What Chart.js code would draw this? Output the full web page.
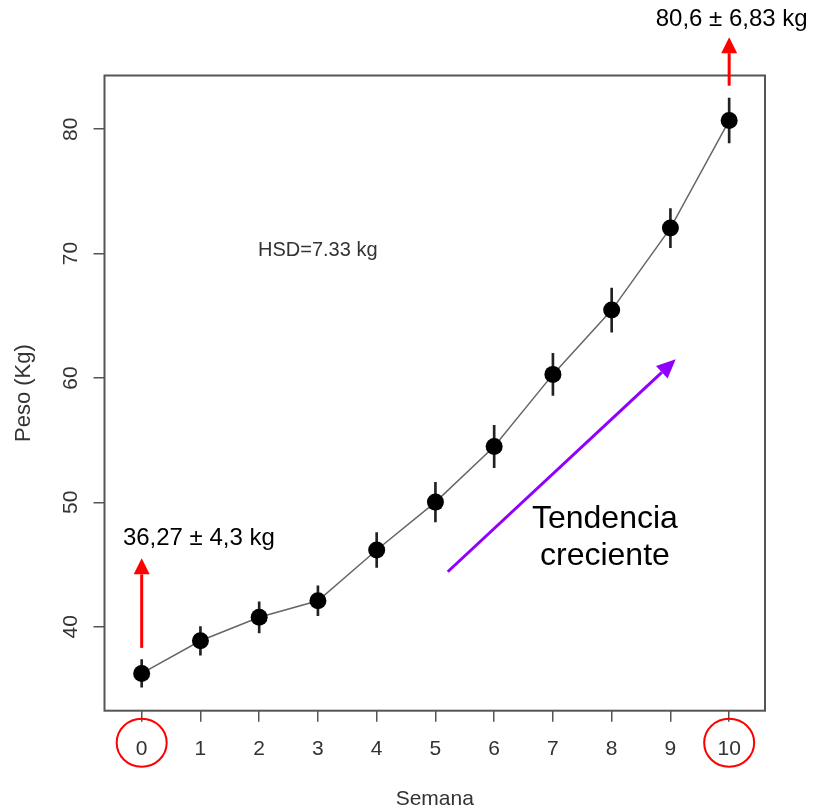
<!DOCTYPE html>
<html>
<head>
<meta charset="utf-8">
<script src="https://cdn.jsdelivr.net/npm/chart.js@4"></script>
<style>
  body { margin: 0; background: #fff; }
  canvas { display: block; }
</style>
</head>
<body>
<canvas id="pesoChart" width="813" height="812"></canvas>
<script>
// Peso medio por semana (kg) y semiamplitud de la barra de error
const semanas = [0, 1, 2, 3, 4, 5, 6, 7, 8, 9, 10];
const pesoMedio = [36.25, 38.87, 40.76, 42.09, 46.17, 50.02, 54.49, 60.29, 65.46, 72.05, 80.7];
const pesoError = [1.1, 1.15, 1.25, 1.2, 1.4, 1.6, 1.7, 1.7, 1.77, 1.58, 1.8];
const xTicks = [0, 1, 2, 3, 4, 5, 6, 7, 8, 9, 10];
const yTicks = [40, 50, 60, 70, 80];

const rFont = 'Liberation Sans, Arial, sans-serif';
const axisGray = '#555';
const textGray = '#333';

const ctx = document.getElementById('pesoChart').getContext('2d');

// flechas y textos añadidos sobre el gráfico
const annotations = {
  id: 'annotations',
  afterDraw(chart) {
    const { ctx, scales: { x, y } } = chart;
    const px = v => x.getPixelForValue(v);
    const py = v => y.getPixelForValue(v);

    const arrow = (x1, y1, x2, y2, color, lw, headLen, headW) => {
      const ang = Math.atan2(y2 - y1, x2 - x1);
      const bx = x2 - headLen * Math.cos(ang);
      const by = y2 - headLen * Math.sin(ang);
      ctx.save();
      ctx.strokeStyle = color;
      ctx.fillStyle = color;
      ctx.lineWidth = lw;
      ctx.beginPath();
      ctx.moveTo(x1, y1);
      ctx.lineTo(bx, by);
      ctx.stroke();
      ctx.beginPath();
      ctx.moveTo(x2, y2);
      ctx.lineTo(bx + headW / 2 * Math.sin(ang), by - headW / 2 * Math.cos(ang));
      ctx.lineTo(bx - headW / 2 * Math.sin(ang), by + headW / 2 * Math.cos(ang));
      ctx.closePath();
      ctx.fill();
      ctx.restore();
    };

    // HSD
    ctx.save();
    ctx.fillStyle = textGray;
    ctx.font = '20px ' + rFont;
    ctx.textAlign = 'left';
    ctx.textBaseline = 'alphabetic';
    ctx.fillText('HSD=7.33 kg', px(1.98), py(69.8));
    ctx.restore();

    // flechas rojas
    arrow(px(0), py(38.3), px(0), py(45.5), '#ff0000', 3, 16, 16);
    arrow(px(10), py(83.5), px(10), py(87.4), '#ff0000', 3, 16, 16);

    // círculos rojos en 0 y 10
    ctx.save();
    ctx.strokeStyle = '#ff0000';
    ctx.lineWidth = 2;
    [0, 10].forEach(v => {
      ctx.beginPath();
      ctx.ellipse(px(v), x.top + 32, 25, 24, 0, 0, Math.PI * 2);
      ctx.stroke();
    });
    ctx.restore();

    // textos negros
    ctx.save();
    ctx.fillStyle = '#000';
    ctx.font = '24px ' + rFont;
    ctx.textAlign = 'left';
    ctx.fillText('36,27 \u00b1 4,3 kg', px(-0.32), py(46.57));
    ctx.fillText('80,6 \u00b1 6,83 kg', px(8.75), py(88.3));
    ctx.font = '32px ' + rFont;
    ctx.textAlign = 'center';
    ctx.fillText('Tendencia', px(7.885), py(47.93));
    ctx.fillText('creciente', px(7.885), py(44.96));
    ctx.restore();

    // flecha violeta
    arrow(px(5.21), py(44.42), px(9.09), py(61.5), '#8f00ff', 3, 19, 17);
  },
  beforeDatasetsDraw(chart) {
    // marco del gráfico
    const { ctx, chartArea: a } = chart;
    ctx.save();
    ctx.strokeStyle = axisGray;
    ctx.lineWidth = 2;
    ctx.strokeRect(a.left, a.top, a.right - a.left, a.bottom - a.top);
    ctx.restore();
  }
};

new Chart(ctx, {
  type: 'line',
  data: {
    datasets: [
      {
        label: 'Peso',
        data: semanas.map((s, i) => ({ x: s, y: pesoMedio[i] })),
        borderColor: '#666',
        borderWidth: 1.5,
        pointRadius: 8.5,
        pointBackgroundColor: '#000',
        pointBorderWidth: 0,
        tension: 0,
        order: 0
      },
      {
        type: 'bar',
        label: 'Error',
        data: semanas.map((s, i) => ({ x: s, y: [pesoMedio[i] - pesoError[i], pesoMedio[i] + pesoError[i]] })),
        backgroundColor: '#222',
        barThickness: 2,
        grouped: false,
        order: 1
      }
    ]
  },
  options: {
    responsive: false,
    animation: false,
    layout: { padding: { top: 75.5, right: 48, left: 0, bottom: 0 } },
    scales: {
      x: {
        type: 'linear',
        min: -0.633,
        max: 10.61,
        offset: false,
        afterFit: s => { s.height = 101.3; },
        afterBuildTicks: s => { s.ticks = xTicks.map(v => ({ value: v })); },
        grid: { display: true, drawOnChartArea: false, drawTicks: true, tickLength: 11, color: axisGray, lineWidth: 1.5, offset: false },
        border: { display: false },
        ticks: { color: textGray, padding: 15, font: { family: rFont, size: 21 }, maxRotation: 0, autoSkip: false },
        title: { display: true, text: 'Semana', color: textGray, font: { family: rFont, size: 21 }, padding: { top: 0, bottom: 0 } }
      },
      y: {
        type: 'linear',
        min: 33.25,
        max: 84.32,
        beginAtZero: false,
        afterFit: s => { s.width = 104.5; },
        afterBuildTicks: s => { s.ticks = yTicks.map(v => ({ value: v })); },
        grid: { display: true, drawOnChartArea: false, drawTicks: true, tickLength: 11, color: axisGray, lineWidth: 1.5 },
        border: { display: false },
        ticks: { color: textGray, padding: 11, minRotation: 90, maxRotation: 90, crossAlign: 'center', font: { family: rFont, size: 21 } },
        title: { display: true, text: 'Peso (Kg)', color: textGray, font: { family: rFont, size: 22 }, padding: { top: 11, bottom: 0 } }
      }
    },
    plugins: {
      legend: { display: false },
      tooltip: { enabled: false }
    }
  },
  plugins: [annotations]
});
</script>
</body>
</html>
